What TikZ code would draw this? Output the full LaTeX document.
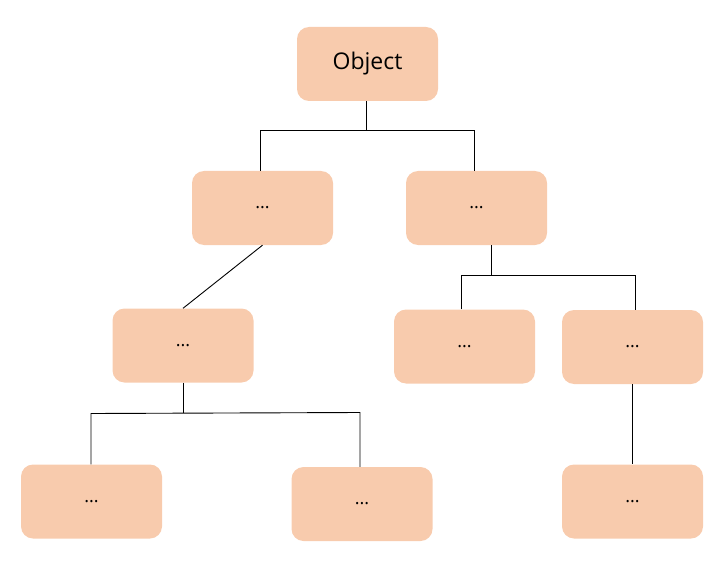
\documentclass[tikz,border=0pt]{standalone}
\usepackage{fontspec}
\setmainfont{Open Sans}
\definecolor{boxfill}{HTML}{F8CBAD}
\begin{document}
\begin{tikzpicture}[x=1pt,y=-1pt,
  box/.style={fill=boxfill,draw=none,rounded corners=12pt,minimum width=141pt,minimum height=74pt,inner sep=0pt,font=\fontsize{18}{21}\selectfont},
  conn/.style={draw=black,line width=0.9pt}]
\useasboundingbox (0,0) rectangle (722,564);
\node[box,font=\fontsize{23}{26}\selectfont] (obj) at (367.5,64) {Object};
\node[box] (a) at (262.5,208) {...};
\node[box] (b) at (476.5,208) {...};
\node[box] (c) at (183,345.5) {...};
\node[box] (d) at (464.5,346.5) {...};
\node[box] (e) at (632.5,347) {...};
\node[box] (f) at (91.5,501.5) {...};
\node[box] (g) at (362,504) {...};
\node[box] (h) at (632.5,501.5) {...};
% Object -> a, b
\coordinate (j1) at (366,130);
\coordinate (j1l) at (260,130);
\coordinate (j1r) at (474,130);
\draw[conn] (obj.south -| j1) -- (j1);
\draw[conn] (a.north -| j1l) -- (j1l) -- (j1r) -- (b.north -| j1r);
% a -> c
\draw[conn] (a.south) -- (c.north);
% b -> d, e
\coordinate (j2) at (491,275);
\coordinate (j2l) at (461,275);
\coordinate (j2r) at (635,275);
\draw[conn] (b.south -| j2) -- (j2);
\draw[conn] (d.north -| j2l) -- (j2l) -- (j2r) -- (e.north -| j2r);
% c -> f, g
\coordinate (j3) at (183,413);
\coordinate (j3l) at (91,413.5);
\coordinate (j3r) at (360,412.5);
\draw[conn] (c.south) -- (j3);
\draw[conn] (f.north -| j3l) -- (j3l) -- (j3r) -- (g.north -| j3r);
% e -> h
\draw[conn] (e.south) -- (h.north);
\end{tikzpicture}
\end{document}
